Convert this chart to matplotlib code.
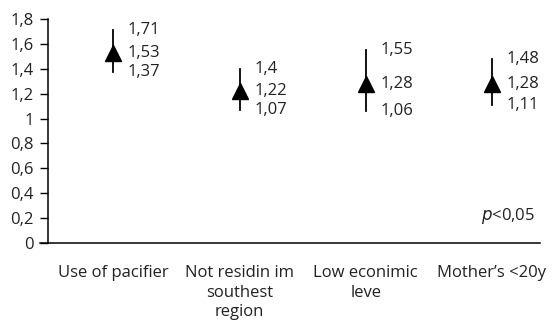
import matplotlib
matplotlib.use('Agg')
import matplotlib.pyplot as plt
from matplotlib.ticker import FuncFormatter

categories = ['Use of pacifier', 'Not residin im\nsouthest\nregion', 'Low econimic\nleve', 'Mother\u2019s <20y']
mean = [1.53, 1.22, 1.28, 1.28]
lower = [1.37, 1.07, 1.06, 1.11]
upper = [1.71, 1.40, 1.55, 1.48]
upper_txt = ['1,71', '1,4', '1,55', '1,48']
mean_txt = ['1,53', '1,22', '1,28', '1,28']
lower_txt = ['1,37', '1,07', '1,06', '1,11']

plt.rcParams['font.family'] = ['Open Sans', 'DejaVu Sans']
fs = 12
fig = plt.figure(figsize=(5.56, 3.27), dpi=100)
ax = fig.add_axes([0.086, 0.257, 0.885, 0.685])

x = list(range(len(categories)))
for i in x:
    ax.plot([i, i], [lower[i], upper[i]], color='black', lw=1.3, zorder=2)
ax.plot(x, mean, linestyle='none', marker='^', markersize=11.5, color='black', zorder=3)

for i in x:
    dx = 0.115
    ax.text(i + dx, upper[i], upper_txt[i], fontsize=fs, va='center', ha='left', color='#222222')
    ax.text(i + dx, mean[i], mean_txt[i], fontsize=fs, va='center', ha='left', color='#222222')
    ax.text(i + dx, lower[i], lower_txt[i], fontsize=fs, va='center', ha='left', color='#222222')

ax.text(3.34, 0.22, r'$\it{p}$<0,05', fontsize=fs, ha='right', va='center', color='#222222')

ax.set_xlim(-0.52, 3.38)
ax.set_ylim(0, 1.8)
ax.set_yticks([0, 0.2, 0.4, 0.6, 0.8, 1.0, 1.2, 1.4, 1.6, 1.8])
ax.yaxis.set_major_formatter(FuncFormatter(lambda v, p: f'{v:g}'.replace('.', ',')))
ax.set_xticks(x)
ax.set_xticklabels(categories, fontsize=fs, linespacing=1.3, color='#222222')
ax.tick_params(axis='x', length=0, pad=16)
ax.tick_params(axis='y', length=6, width=1, labelsize=fs, pad=4, direction='out', labelcolor='#222222')
for s in ['top', 'right']:
    ax.spines[s].set_visible(False)
ax.spines['left'].set_linewidth(1.1)
ax.spines['bottom'].set_linewidth(1.1)
ax.spines['bottom'].set_bounds(-0.58, 3.38)
ax.spines['bottom'].set_clip_on(False)

fig.savefig('out.png', dpi=100)
